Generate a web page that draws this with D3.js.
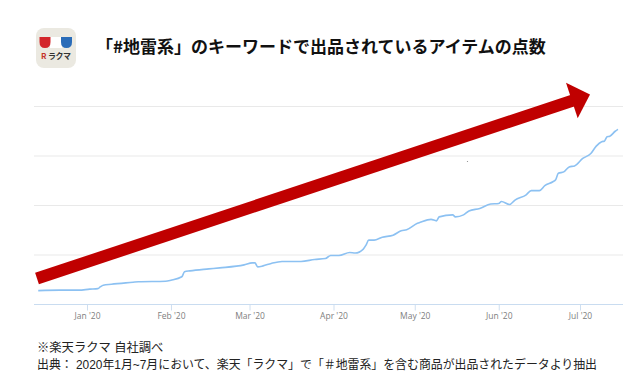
<!DOCTYPE html>
<html>
<head>
<meta charset="utf-8">
<script src="https://cdn.jsdelivr.net/npm/d3@7"></script>
<style>
    body { margin: 0; background: #fff; }
    svg { display: block; }
    text { font-family: "Noto Sans CJK JP", sans-serif; }
    .axis text { font-family: "Open Sans", sans-serif; }
    .note { font-family: "Liberation Sans", "Noto Sans CJK JP", sans-serif; }
</style>
</head>
<body>
<script>
// no y labels in the source, so values are on a 0-400 scale (100 = one gridline)
const dates = [
    "2019-12-14", "2019-12-22", "2019-12-29", "2020-01-02", "2020-01-05", "2020-01-06", "2020-01-07", "2020-01-10",
    "2020-01-18", "2020-01-20", "2020-01-30", "2020-02-01", "2020-02-05", "2020-02-06", "2020-02-08", "2020-02-15",
    "2020-02-19", "2020-02-28", "2020-03-02", "2020-03-03", "2020-03-04", "2020-03-06", "2020-03-09", "2020-03-13",
    "2020-03-20", "2020-03-25", "2020-03-29", "2020-03-31", "2020-04-03", "2020-04-07", "2020-04-09", "2020-04-12",
    "2020-04-13", "2020-04-14", "2020-04-16", "2020-04-19", "2020-04-23", "2020-04-26", "2020-04-28", "2020-05-02",
    "2020-05-03", "2020-05-07", "2020-05-09", "2020-05-10", "2020-05-15", "2020-05-16", "2020-05-19", "2020-05-21",
    "2020-05-25", "2020-05-29", "2020-06-01", "2020-06-02", "2020-06-05", "2020-06-07", "2020-06-11", "2020-06-13",
    "2020-06-16", "2020-06-18", "2020-06-21", "2020-06-22", "2020-06-23", "2020-06-25", "2020-06-27", "2020-06-29",
    "2020-07-02", "2020-07-05", "2020-07-07", "2020-07-09", "2020-07-10", "2020-07-11", "2020-07-12", "2020-07-14",
    "2020-07-15"
];
const counts = [
    28, 29, 29, 31, 32, 36, 39, 41,
    45, 46, 47, 49, 56, 66, 68, 72,
    74, 80, 84, 84, 76, 78, 83, 87,
    87, 91, 93, 99, 99, 105, 104, 112,
    120, 130, 130, 136, 140, 149, 151, 164,
    166, 172, 169, 177, 181, 177, 181, 189,
    194, 203, 204, 208, 202, 211, 221, 230,
    230, 240, 248, 252, 265, 268, 278, 280,
    295, 305, 320, 329, 330, 339, 340, 350,
    354
];
const gridValues = [100, 200, 300, 400];
const monthTicks = ["2020-01-01", "2020-02-01", "2020-03-01", "2020-04-01", "2020-05-01", "2020-06-01", "2020-07-01"];

const titleText = "「#地雷系」のキーワードで出品されているアイテムの点数";
const noteText = "※楽天ラクマ 自社調べ";
const sourceText = "出典： 2020年1月~7月において、楽天「ラクマ」で「＃地雷系」を含む商品が出品されたデータより抽出";

const parseDate = d3.utcParse("%Y-%m-%d");
const series = dates.map((d, i) => ({date: parseDate(d), value: counts[i]}));

const width = 640, height = 386;
const svg = d3.select("body").append("svg")
    .attr("width", width)
    .attr("height", height);

// the scales are anchored on the Jan / Jul ticks, the rest falls in place
const xScale = d3.scaleUtc()
    .domain([parseDate("2020-01-01"), parseDate("2020-07-01")])
    .range([87, 580]);
const yScale = d3.scaleLinear()
    .domain([0, 400])
    .range([304.5, 106.5]);

const plotLeft = 34, plotRight = 623;

// gridlines
svg.append("g")
    .selectAll("line")
    .data(gridValues)
    .enter()
    .append("line")
    .attr("x1", plotLeft)
    .attr("x2", plotRight)
    .attr("y1", d => yScale(d))
    .attr("y2", d => yScale(d))
    .attr("stroke", "#e9e9e9")
    .attr("stroke-width", 1);

// x axis
const xAxis = svg.append("g")
    .attr("class", "axis")
    .attr("transform", `translate(0, ${yScale(0)})`)
    .call(d3.axisBottom(xScale)
        .tickValues(monthTicks.map(parseDate))
        .tickFormat(d3.utcFormat("%b '%y"))
        .tickSize(6)
        .tickPadding(2));
xAxis.select(".domain").remove();
xAxis.selectAll("line").attr("stroke", "#cfdff0");
xAxis.selectAll("text")
    .attr("fill", "#808080")
    .attr("font-size", 8.5);
xAxis.append("line")
    .attr("x1", plotLeft)
    .attr("x2", plotRight)
    .attr("stroke", "#c9dcf0")
    .attr("stroke-width", 1);

// series
const line = d3.line()
    .x(d => xScale(d.date))
    .y(d => yScale(d.value))
    .curve(d3.curveMonotoneX);

svg.append("path")
    .datum(series)
    .attr("d", line)
    .attr("fill", "none")
    .attr("stroke", "#8cc1f2")
    .attr("stroke-width", 1.6);

// stray speck in the source image
svg.append("circle")
    .attr("cx", 467.5)
    .attr("cy", 161.5)
    .attr("r", 0.6)
    .attr("fill", "#888");

// big red arrow over the chart
svg.append("line")
    .attr("x1", 37)
    .attr("y1", 278.5)
    .attr("x2", 573)
    .attr("y2", 100.5)
    .attr("stroke", "#c00000")
    .attr("stroke-width", 12);
svg.append("polygon")
    .attr("points", "590,94.5 566,82.7 577.7,118.3")
    .attr("fill", "#c00000");

// title
svg.append("text")
    .text(titleText)
    .attr("x", 96)
    .attr("y", 53)
    .attr("font-size", 17)
    .attr("font-weight", 700)
    .attr("fill", "#111");

// app icon
const icon = svg.append("g").attr("transform", "translate(36, 28)");
icon.append("rect")
    .attr("width", 40)
    .attr("height", 40)
    .attr("rx", 8)
    .attr("fill", "#ebe9e1");
icon.append("rect")
    .attr("x", 14)
    .attr("y", 9)
    .attr("width", 12)
    .attr("height", 11)
    .attr("fill", "#fff");
icon.append("path")
    .attr("d", "M3.5,9 H14.5 V14 Q14.5,20 9,20 Q3.5,20 3.5,14 Z")
    .attr("fill", "#d3262b");
icon.append("path")
    .attr("d", "M25,9 H36 V14 Q36,20 30.5,20 Q25,20 25,14 Z")
    .attr("fill", "#2a6cb8");
icon.append("text")
    .text("R")
    .attr("x", 5)
    .attr("y", 31)
    .attr("font-size", 8)
    .attr("font-weight", 700)
    .attr("fill", "#c5342b");
icon.append("text")
    .text("ラクマ")
    .attr("x", 12)
    .attr("y", 31)
    .attr("font-size", 8)
    .attr("font-weight", 700)
    .attr("textLength", 23)
    .attr("fill", "#333");

// footnotes
svg.append("text")
    .attr("class", "note")
    .text(noteText)
    .attr("x", 37)
    .attr("y", 352)
    .attr("font-size", 12.3)
    .attr("fill", "#222");
svg.append("text")
    .attr("class", "note")
    .text(sourceText)
    .attr("x", 37)
    .attr("y", 369)
    .attr("font-size", 12.3)
    .attr("textLength", 560)
    .attr("lengthAdjust", "spacingAndGlyphs")
    .attr("fill", "#222");
</script>
</body>
</html>
